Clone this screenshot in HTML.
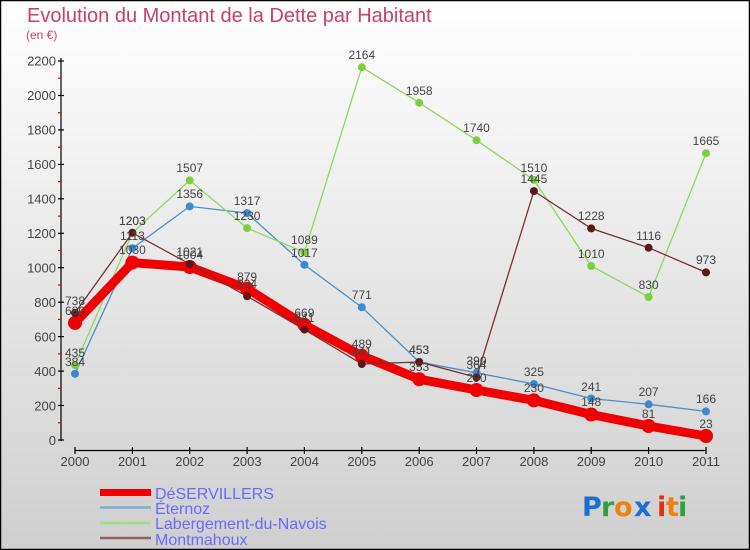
<!DOCTYPE html>
<html><head><meta charset="utf-8"><style>
html,body{margin:0;padding:0;}
body{width:750px;height:550px;overflow:hidden;}
svg{display:block;font-family:"Liberation Sans",sans-serif;}
</style></head><body>
<svg width="750" height="550" viewBox="0 0 750 550" xmlns="http://www.w3.org/2000/svg">
<defs><linearGradient id="bg" x1="0" y1="0" x2="0" y2="1"><stop offset="0" stop-color="#ffffff"/><stop offset="1" stop-color="#cfcfcf"/></linearGradient></defs>
<rect x="0.5" y="0.5" width="749" height="549" fill="url(#bg)" stroke="#000" stroke-width="1.5"/>
<text x="27" y="22" font-size="20" fill="#c8406a">Evolution du Montant de la Dette par Habitant</text>
<text x="26" y="39" font-size="12" fill="#c8406a">(en €)</text>
<g stroke="#000" stroke-width="1.2">
<line x1="61" y1="58" x2="61" y2="441"/>
<line x1="75" y1="450.5" x2="706" y2="450.5"/>
</g>
<g stroke="#000" stroke-width="1.2">
<line x1="58" y1="440" x2="64" y2="440"/><line x1="58" y1="405.5" x2="64" y2="405.5"/><line x1="58" y1="371.1" x2="64" y2="371.1"/><line x1="58" y1="336.6" x2="64" y2="336.6"/><line x1="58" y1="302.2" x2="64" y2="302.2"/><line x1="58" y1="267.7" x2="64" y2="267.7"/><line x1="58" y1="233.3" x2="64" y2="233.3"/><line x1="58" y1="198.8" x2="64" y2="198.8"/><line x1="58" y1="164.4" x2="64" y2="164.4"/><line x1="58" y1="129.9" x2="64" y2="129.9"/><line x1="58" y1="95.5" x2="64" y2="95.5"/><line x1="58" y1="61" x2="64" y2="61"/>
</g>
<g stroke="#e00" stroke-width="1.2">
<line x1="58" y1="422.8" x2="61" y2="422.8"/><line x1="58" y1="388.3" x2="61" y2="388.3"/><line x1="58" y1="353.9" x2="61" y2="353.9"/><line x1="58" y1="319.4" x2="61" y2="319.4"/><line x1="58" y1="285" x2="61" y2="285"/><line x1="58" y1="250.5" x2="61" y2="250.5"/><line x1="58" y1="216.1" x2="61" y2="216.1"/><line x1="58" y1="181.6" x2="61" y2="181.6"/><line x1="58" y1="147.2" x2="61" y2="147.2"/><line x1="58" y1="112.7" x2="61" y2="112.7"/><line x1="58" y1="78.2" x2="61" y2="78.2"/>
</g>
<g font-size="13" fill="#444" text-anchor="end">
<text x="56" y="445">0</text><text x="56" y="410.5">200</text><text x="56" y="376">400</text><text x="56" y="341.5">600</text><text x="56" y="307">800</text><text x="56" y="272.5">1000</text><text x="56" y="238">1200</text><text x="56" y="203.5">1400</text><text x="56" y="169">1600</text><text x="56" y="134.5">1800</text><text x="56" y="100">2000</text><text x="56" y="65.5">2200</text>
</g>
<g stroke="#000" stroke-width="1.2">
<line x1="75" y1="447" x2="75" y2="454"/><line x1="132.4" y1="447" x2="132.4" y2="454"/><line x1="189.7" y1="447" x2="189.7" y2="454"/><line x1="247.1" y1="447" x2="247.1" y2="454"/><line x1="304.4" y1="447" x2="304.4" y2="454"/><line x1="361.8" y1="447" x2="361.8" y2="454"/><line x1="419.2" y1="447" x2="419.2" y2="454"/><line x1="476.5" y1="447" x2="476.5" y2="454"/><line x1="533.9" y1="447" x2="533.9" y2="454"/><line x1="591.2" y1="447" x2="591.2" y2="454"/><line x1="648.6" y1="447" x2="648.6" y2="454"/><line x1="706" y1="447" x2="706" y2="454"/>
</g>
<g font-size="13" fill="#444" text-anchor="middle">
<text x="75" y="466">2000</text><text x="132.4" y="466">2001</text><text x="189.7" y="466">2002</text><text x="247.1" y="466">2003</text><text x="304.4" y="466">2004</text><text x="361.8" y="466">2005</text><text x="419.2" y="466">2006</text><text x="476.5" y="466">2007</text><text x="533.9" y="466">2008</text><text x="591.2" y="466">2009</text><text x="648.6" y="466">2010</text><text x="706" y="466">2011</text>
</g>
<!-- Eternoz -->
<polyline fill="none" stroke="#4a90c8" stroke-width="1.3" points="75,373.8 132.4,248.3 189.7,206.4 247.1,213.1 304.4,264.8 361.8,307.2 419.2,362 476.5,372.8 533.9,384 591.2,398.5 648.6,404.3 706,411.4"/>
<g fill="#3a8ad0"><circle cx="75" cy="373.8" r="4"/><circle cx="132.4" cy="248.3" r="4"/><circle cx="189.7" cy="206.4" r="4"/><circle cx="247.1" cy="213.1" r="4"/><circle cx="304.4" cy="264.8" r="4"/><circle cx="361.8" cy="307.2" r="4"/><circle cx="419.2" cy="362" r="4"/><circle cx="476.5" cy="372.8" r="4"/><circle cx="533.9" cy="384" r="4"/><circle cx="591.2" cy="398.5" r="4"/><circle cx="648.6" cy="404.3" r="4"/><circle cx="706" cy="411.4" r="4"/></g>
<!-- Labergement -->
<polyline fill="none" stroke="#8ed860" stroke-width="1.3" points="75,365.1 132.4,232.8 189.7,180.4 247.1,228.1 304.4,252.4 361.8,67.2 419.2,102.7 476.5,140.2 533.9,179.9 591.2,266 648.6,297 706,153.2"/>
<g fill="#7cd040"><circle cx="75" cy="365.1" r="4"/><circle cx="132.4" cy="232.8" r="4"/><circle cx="189.7" cy="180.4" r="4"/><circle cx="247.1" cy="228.1" r="4"/><circle cx="304.4" cy="252.4" r="4"/><circle cx="361.8" cy="67.2" r="4"/><circle cx="419.2" cy="102.7" r="4"/><circle cx="476.5" cy="140.2" r="4"/><circle cx="533.9" cy="179.9" r="4"/><circle cx="591.2" cy="266" r="4"/><circle cx="648.6" cy="297" r="4"/><circle cx="706" cy="153.2" r="4"/></g>
<!-- DeSERVILLERS -->
<polyline fill="none" stroke="#f00000" stroke-width="9" stroke-linejoin="round" points="75,322.9 132.4,262.6 189.7,267 247.1,288.6 304.4,324.8 361.8,355.8 419.2,379.2 476.5,390 533.9,400.4 591.2,414.5 648.6,426 706,436"/>
<g fill="#f00000"><circle cx="75" cy="322.9" r="7"/><circle cx="132.4" cy="262.6" r="7"/><circle cx="189.7" cy="267" r="7"/><circle cx="247.1" cy="288.6" r="7"/><circle cx="304.4" cy="324.8" r="7"/><circle cx="361.8" cy="355.8" r="7"/><circle cx="419.2" cy="379.2" r="7"/><circle cx="476.5" cy="390" r="7"/><circle cx="533.9" cy="400.4" r="7"/><circle cx="591.2" cy="414.5" r="7"/><circle cx="648.6" cy="426" r="7"/><circle cx="706" cy="436" r="7"/></g>
<!-- Montmahoux -->
<polyline fill="none" stroke="#7a3030" stroke-width="1.3" points="75,312.9 132.4,232.8 189.7,264.1 247.1,296.3 304.4,329.6 361.8,364 419.2,362 476.5,377.3 533.9,191.1 591.2,228.4 648.6,247.7 706,272.4"/>
<g fill="#5a1818"><circle cx="75" cy="312.9" r="4"/><circle cx="132.4" cy="232.8" r="4"/><circle cx="189.7" cy="264.1" r="4"/><circle cx="247.1" cy="296.3" r="4"/><circle cx="304.4" cy="329.6" r="4"/><circle cx="361.8" cy="364" r="4"/><circle cx="419.2" cy="362" r="4"/><circle cx="476.5" cy="377.3" r="4"/><circle cx="533.9" cy="191.1" r="4"/><circle cx="591.2" cy="228.4" r="4"/><circle cx="648.6" cy="247.7" r="4"/><circle cx="706" cy="272.4" r="4"/></g>
<g font-size="12" fill="#444" text-anchor="middle">
<text x="75" y="315">680</text><text x="132.4" y="254">1030</text><text x="189.7" y="259">1004</text><text x="247.1" y="281">879</text><text x="304.4" y="317">669</text><text x="361.8" y="348">489</text><text x="419.2" y="371">353</text><text x="476.5" y="382">290</text><text x="533.9" y="392">230</text><text x="591.2" y="406">148</text><text x="648.6" y="418">81</text><text x="706" y="428">23</text>
<text x="75" y="366">384</text><text x="132.4" y="240">1113</text><text x="189.7" y="198">1356</text><text x="247.1" y="205">1317</text><text x="304.4" y="257">1017</text><text x="361.8" y="299">771</text><text x="419.2" y="354">453</text><text x="476.5" y="365">390</text><text x="533.9" y="376">325</text><text x="591.2" y="391">241</text><text x="648.6" y="396">207</text><text x="706" y="403">166</text>
<text x="75" y="357">435</text><text x="132.4" y="225">1203</text><text x="189.7" y="172">1507</text><text x="247.1" y="220">1230</text><text x="304.4" y="244">1089</text><text x="361.8" y="59">2164</text><text x="419.2" y="95">1958</text><text x="476.5" y="132">1740</text><text x="533.9" y="172">1510</text><text x="591.2" y="258">1010</text><text x="648.6" y="289">830</text><text x="706" y="145">1665</text>
<text x="75" y="305">738</text><text x="132.4" y="225">1203</text><text x="189.7" y="256">1021</text><text x="247.1" y="288">834</text><text x="304.4" y="322">641</text><text x="361.8" y="356">441</text><text x="419.2" y="354">453</text><text x="476.5" y="369">364</text><text x="533.9" y="183">1445</text><text x="591.2" y="220">1228</text><text x="648.6" y="240">1116</text><text x="706" y="264">973</text>
</g>
<!-- legend -->
<rect x="100" y="489" width="51" height="7" fill="#f00000"/>
<line x1="100" y1="507.5" x2="151" y2="507.5" stroke="#7ab0d0" stroke-width="2.5"/>
<line x1="100" y1="523" x2="151" y2="523" stroke="#a0e080" stroke-width="2.5"/>
<line x1="100" y1="538" x2="151" y2="538" stroke="#906060" stroke-width="2.5"/>
<g font-size="16" fill="#6a6aff">
<text x="155" y="499">DéSERVILLERS</text><text x="155" y="514">Éternoz</text><text x="155" y="529">Labergement-du-Navois</text><text x="155" y="545">Montmahoux</text>
</g>
<g font-size="27" font-weight="bold" font-family="'DejaVu Sans',sans-serif">
<text x="582" y="516" fill="#1a70d0">P</text><text x="601" y="516" fill="#30a040">r</text><text x="614" y="516" fill="#f08010">o</text><text x="634" y="516" fill="#1a70d0">x</text><text x="657" y="516" fill="#e03010">i</text><text x="666" y="516" fill="#f08010">t</text><text x="678" y="516" fill="#30a040">i</text>
</g>
</svg>
</body></html>
